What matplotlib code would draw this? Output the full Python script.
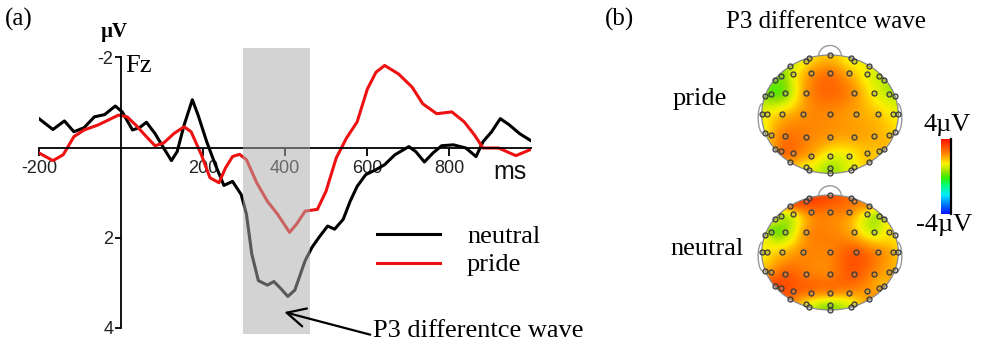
import numpy as np
import matplotlib
matplotlib.use("Agg")
import matplotlib.pyplot as plt
from matplotlib.lines import Line2D
from matplotlib.patches import Circle, PathPatch
from matplotlib.path import Path
from matplotlib.colors import LinearSegmentedColormap, Normalize
from matplotlib.cm import ScalarMappable

# ---------------- data: ERP waveforms at Fz ----------------
neutral_ms = [-200, -166, -138, -115, -90, -65, -40, -14, 3, 28, 45, 62, 83, 104, 123, 137,
              154, 174, 188, 209, 230, 251, 272, 293, 306, 319, 335, 357, 373, 390, 407, 424,
              449, 466, 483, 504, 521, 542, 559, 576, 597, 622, 643, 668, 702, 719, 740, 761,
              782, 811, 841, 866, 883, 904, 925, 946, 972, 1000]
neutral_uv = [-0.64, -0.40, -0.59, -0.35, -0.44, -0.68, -0.73, -0.92, -0.79, -0.39, -0.44, -0.56,
              -0.31, 0.01, 0.29, 0.09, -0.50, -1.06, -0.72, -0.13, 0.38, 0.84, 0.75, 1.04, 1.48,
              2.36, 2.95, 3.05, 2.97, 3.13, 3.30, 3.16, 2.51, 2.21, 1.99, 1.74, 1.81, 1.59, 1.19,
              0.86, 0.60, 0.49, 0.38, 0.16, -0.02, 0.09, 0.32, 0.12, -0.04, -0.06, 0.01, 0.20,
              -0.13, -0.35, -0.64, -0.51, -0.31, -0.15]

pride_ms = [-200, -166, -141, -115, -90, -56, -31, -6, 15, 36, 62, 83, 104, 129, 154, 171, 196,
            217, 239, 255, 272, 289, 306, 331, 357, 382, 411, 428, 449, 479, 500, 525, 550, 576,
            601, 622, 643, 677, 710, 736, 770, 807, 837, 862, 883, 921, 963, 1000]
pride_uv = [0.12, 0.29, 0.16, -0.24, -0.39, -0.50, -0.61, -0.72, -0.68, -0.50, -0.24, -0.04,
            -0.10, -0.31, -0.46, -0.35, 0.16, 0.67, 0.78, 0.45, 0.20, 0.15, 0.27, 0.78, 1.19,
            1.48, 1.88, 1.70, 1.41, 1.37, 0.97, 0.23, -0.21, -0.57, -1.30, -1.67, -1.82, -1.63,
            -1.34, -0.97, -0.75, -0.79, -0.57, -0.28, 0.01, 0.01, 0.18, 0.04]

x_ticks = [-200, 200, 400, 600, 800]
y_ticks = [-2, 2, 4]
window_ms = [297, 461]

# ---------------- data: topographic maps ----------------
elec_x = [0.0, -0.307, -0.356, 0.307, 0.351,
          -0.585, 0.576,
          -0.283, 0.0, 0.278, -0.541, 0.537, -0.722, 0.712, -0.805, 0.795,
          -0.868, -0.659, -0.356, 0.351, 0.649, 0.863, -0.951, 0.951,
          -1.0, -0.917, -0.698, -0.390, 0.0, 0.380, 0.698, 0.917, 0.990,
          -0.951, -0.868, -0.659, -0.356, 0.0, 0.351, 0.649, 0.863, 0.951,
          -0.805, -0.722, -0.541, -0.283, 0.0, 0.278, 0.537, 0.712, 0.795,
          -0.585, 0.576,
          -0.356, -0.307, 0.0, 0.0, 0.307, 0.351]
elec_y = [1.0, 0.955, 0.899, 0.955, 0.899,
          0.809, 0.809,
          0.697, 0.702, 0.697, 0.674, 0.674, 0.640, 0.640, 0.584, 0.584,
          0.348, 0.365, 0.365, 0.365, 0.365, 0.348, 0.303, 0.303,
          0.0, 0.0, 0.0, 0.0, 0.0, 0.0, 0.0, 0.0, 0.0,
          -0.315, -0.343, -0.371, -0.382, -0.382, -0.382, -0.371, -0.343, -0.309,
          -0.590, -0.624, -0.663, -0.702, -0.708, -0.702, -0.663, -0.624, -0.590,
          -0.803, -0.803,
          -0.888, -0.944, -0.916, -1.0, -0.944, -0.888]
pride_topo = [1.8, 1.5, 1.5, 1.3, 1.3,
              0.8, 1.3,
              2.2, 2.6, 2.0, 1.2, 1.3, 0.3, 0.9, 0.3, 0.8,
              0.2, 0.4, 2.2, 2.3, 1.3, 0.8, 0.5, 0.8,
              1.2, 1.4, 1.8, 2.3, 2.4, 2.1, 1.8, 1.4, 1.3,
              1.4, 1.9, 2.6, 2.5, 2.2, 2.1, 2.0, 1.8, 1.6,
              2.3, 2.7, 2.6, 2.0, 1.2, 1.3, 1.8, 1.8, 1.9,
              2.3, 1.8,
              1.4, 1.3, 0.6, 0.6, 1.2, 1.3]
neutral_topo = [3.0, 3.3, 3.3, 2.7, 2.6,
                2.8, 2.2,
                2.6, 2.6, 2.4, 1.5, 1.4, 0.9, 0.8, 1.2, 1.2,
                0.4, 0.5, 2.2, 1.9, 0.9, 1.5, 1.2, 1.5,
                1.3, 1.5, 1.8, 2.4, 2.5, 3.0, 2.4, 2.0, 1.7,
                2.0, 2.3, 2.9, 2.6, 2.5, 3.0, 2.4, 2.1, 2.0,
                3.3, 3.2, 3.0, 2.6, 2.4, 2.3, 2.3, 2.1, 2.0,
                2.8, 2.2,
                1.6, 1.2, 0.6, 0.4, 1.2, 1.5]
topo_labels = ["pride", "neutral"]
cbar_range = [-4, 4]

# ---------------- style ----------------
W, H = 1000, 351
serif = ["Liberation Serif", "DejaVu Serif"]
sans = ["Liberation Sans", "DejaVu Sans"]
plt.rcParams["font.family"] = sans


def fx(px):
    return px / W


def fy(py):
    return 1 - py / H


fig = plt.figure(figsize=(10, 3.51), dpi=100)

# ---------------- panel (a) ----------------
ax = fig.add_axes([fx(39), fy(337), fx(531) - fx(39), fy(48.3) - fy(337)])
ax.set_xlim(-200, 1000)
ax.set_ylim(4.2, -2.2)
ax.patch.set_visible(False)
ax.plot(neutral_ms, neutral_uv, color="black", lw=2.2, zorder=2, solid_joinstyle="round")
ax.plot(pride_ms, pride_uv, color="#ee1111", lw=2.2, zorder=2.1, solid_joinstyle="round")
ax.axvspan(window_ms[0], window_ms[1], ymin=0.01, ymax=1.0, color=(0.67, 0.67, 0.67),
           alpha=0.52, lw=0, zorder=3)

for s in ["top", "right"]:
    ax.spines[s].set_visible(False)
ax.spines["left"].set_position(("data", 0))
ax.spines["bottom"].set_position(("data", 0))
ax.spines["left"].set_bounds(-2, 4)
ax.spines["bottom"].set_bounds(-200, 1000)
ax.spines["left"].set_linewidth(1.3)
ax.spines["bottom"].set_linewidth(1.3)
ax.set_xticks(x_ticks)
ax.set_xticklabels([str(v) for v in x_ticks])
ax.set_yticks(y_ticks)
ax.set_yticklabels([str(v) for v in y_ticks])
ax.tick_params(axis="x", direction="out", length=6, width=1.3, labelsize=13, pad=3,
               labelcolor="#222222")
ax.tick_params(axis="y", direction="out", length=4.5, width=1.3, labelsize=13, pad=1,
               labelcolor="#222222")
for lab in ax.get_xticklabels() + ax.get_yticklabels():
    lab.set_fontfamily(sans)

fig.text(fx(510), fy(179), "ms", fontsize=18, family=sans, ha="center", va="baseline",
         color="#111111")
fig.text(fx(5), fy(26), "(a)", fontsize=18, family=serif, ha="left", va="baseline")
fig.text(fx(114), fy(37.5), "\u00b5V", fontsize=15, family=serif, fontweight="bold",
         ha="center", va="baseline")
fig.text(fx(125), fy(72), "Fz", fontsize=19, family=serif, ha="left", va="baseline")

# legend
fig.add_artist(Line2D([fx(377), fx(440)], [fy(234), fy(234)], color="black", lw=2.2))
fig.add_artist(Line2D([fx(377), fx(440)], [fy(263), fy(263)], color="#ee1111", lw=2.2))
fig.text(fx(467), fy(243), "neutral", fontsize=19, family=serif, ha="left", va="baseline")
fig.text(fx(467), fy(271), "pride", fontsize=19, family=serif, ha="left", va="baseline")

# annotation
ax.annotate("P3 differentce wave", xy=(395, 3.64), xycoords="data",
            xytext=(fx(373), fy(337)), textcoords="figure fraction",
            ha="left", va="baseline", fontsize=19, family=serif,
            arrowprops=dict(arrowstyle="->,head_length=0.7,head_width=0.35", lw=1.6,
                            color="black", relpos=(0.0, 0.3), shrinkA=0, shrinkB=1),
            annotation_clip=False, zorder=5)

# ---------------- panel (b) ----------------
fig.text(fx(605), fy(26), "(b)", fontsize=18, family=serif, ha="left", va="baseline")
fig.text(fx(826), fy(28), "P3 differentce wave", fontsize=18, family=serif, ha="center",
         va="baseline")

cmap = LinearSegmentedColormap.from_list(
    "topo",
    [(0.0, "#0010ff"), (0.12, "#0070ff"), (0.25, "#00e8ff"), (0.38, "#00ff80"),
     (0.48, "#30f000"), (0.56, "#90e000"), (0.625, "#d4f000"), (0.68, "#ffee00"),
     (0.76, "#ffa800"), (0.84, "#ff7000"), (0.92, "#ff4000"), (1.0, "#ff1000")])
norm = Normalize(cbar_range[0], cbar_range[1])

ex = np.array(elec_x)
ey = np.array(elec_y)


def green(r):
    with np.errstate(divide="ignore", invalid="ignore"):
        g = r ** 2 * (np.log(r) - 1)
    g[r == 0] = 0
    return g


def topo_grid(vals, n=220):
    d = np.hypot(ex[:, None] - ex[None, :], ey[:, None] - ey[None, :])
    w = np.linalg.solve(green(d), np.array(vals, dtype=float))
    g = np.linspace(-1.02, 1.02, n)
    gx, gy = np.meshgrid(g, g)
    dd = np.hypot(gx.ravel()[:, None] - ex[None, :], gy.ravel()[:, None] - ey[None, :])
    z = green(dd) @ w
    return g, z.reshape(n, n)


head_boxes = {
    "pride": (830, 114.2, 68.3, 59.2),
    "neutral": (830, 252.5, 68.3, 57.5),
}
label_pos = {"pride": (673, 105), "neutral": (670, 255)}
topo_vals = {"pride": pride_topo, "neutral": neutral_topo}

for name in topo_labels:
    cx, cy, rx, ry = head_boxes[name]
    x0, x1 = -1.1, 1.1
    y0, y1 = -1.05, 1.25
    left = cx + x0 * rx
    right = cx + x1 * rx
    top = cy - y1 * ry
    bottom = cy - y0 * ry
    hax = fig.add_axes([fx(left), fy(bottom), fx(right) - fx(left), fy(top) - fy(bottom)])
    hax.set_xlim(x0, x1)
    hax.set_ylim(y0, y1)
    hax.axis("off")
    g, z = topo_grid(topo_vals[name])
    im = hax.imshow(z, extent=[g[0], g[-1], g[0], g[-1]], origin="lower", cmap=cmap,
                    norm=norm, interpolation="bilinear", aspect="auto", zorder=1)
    clip = Circle((0, 0), 1.0, transform=hax.transData)
    im.set_clip_path(clip)
    hax.add_patch(Circle((0, 0), 1.0, fill=False, ec="#8a8a8a", lw=0.9, zorder=3))
    nose = Path([(-0.17, 0.985), (-0.14, 1.22), (0.14, 1.22), (0.17, 0.985)],
                [Path.MOVETO, Path.CURVE4, Path.CURVE4, Path.CURVE4])
    hax.add_patch(PathPatch(nose, fill=False, ec="#999999", lw=1.0, zorder=3))
    for sgn in (-1, 1):
        ear = Path([(sgn * 0.99, 0.18), (sgn * 1.075, 0.16), (sgn * 1.075, -0.31),
                    (sgn * 0.975, -0.33)],
                   [Path.MOVETO, Path.CURVE4, Path.CURVE4, Path.CURVE4])
        hax.add_patch(PathPatch(ear, fill=False, ec="#999999", lw=1.0, zorder=3))
    hax.plot(ex, ey, ls="none", marker="o", ms=3.6, mfc=(0.55, 0.55, 0.55, 0.35),
             mec="#3a3a3a", mew=0.9, zorder=4)
    lx, ly = label_pos[name]
    fig.text(fx(lx), fy(ly), name, fontsize=19, family=serif, ha="left", va="baseline")

# colorbar
cax = fig.add_axes([fx(940.5), fy(214), fx(950.5) - fx(940.5), fy(139) - fy(214)])
cb = fig.colorbar(ScalarMappable(norm=norm, cmap=cmap), cax=cax)
cb.outline.set_visible(False)
cb.set_ticks([])
cax.plot([1, 1], [0, 1], transform=cax.transAxes, color="black", lw=1.6, clip_on=False)
fig.text(fx(947.5), fy(131), "4\u00b5V", fontsize=19, family=serif, ha="center", va="baseline")
fig.text(fx(944), fy(231), "-4\u00b5V", fontsize=19, family=serif, ha="center", va="baseline")

fig.savefig("out.png", dpi=100)
